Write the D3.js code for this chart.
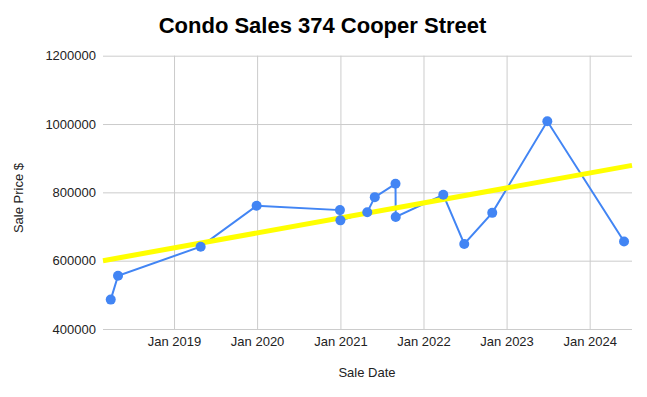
<!DOCTYPE html>
<html>
<head>
<meta charset="utf-8">
<script src="https://cdn.jsdelivr.net/npm/d3@7"></script>
<style>
  body { margin: 0; background: #fff; }
  text { font-family: Arial, "Liberation Sans", sans-serif; }
</style>
</head>
<body>
<svg id="chart" width="647" height="397"></svg>
<script>
// sale dates and prices
var saleDates = ["2018-03-29", "2018-04-30", "2019-04-28", "2019-12-30", "2020-12-30",
                 "2021-01-01", "2021-04-29", "2021-06-01", "2021-08-31", "2021-09-01",
                 "2022-03-29", "2022-06-29", "2022-10-30", "2023-06-29", "2024-05-31"];
var salePrices = [486000, 556000, 641000, 761000, 748000,
                  718000, 742000, 786000, 825000, 728000,
                  793000, 649000, 740000, 1008000, 656000];

// trendline ends (as drawn across the plot)
var trendDates = ["2018-02-23", "2024-07-05"];
var trendPrices = [600000, 879000];

var yTicks = [400000, 600000, 800000, 1000000, 1200000];
var xDomain = ["2018-02-23", "2024-07-05"];

var parse = d3.timeParse("%Y-%m-%d");
var sales = saleDates.map((d, i) => ({date: parse(d), price: salePrices[i]}));
var trend = trendDates.map((d, i) => ({date: parse(d), price: trendPrices[i]}));

// plot area (note: "top" is taken by window.top)
var plotL = 103, plotR = 632, plotT = 55.7, plotB = 329;

var svg = d3.select("#chart");

var x = d3.scaleTime()
        .domain(xDomain.map(parse))
        .range([plotL, plotR]);

var y = d3.scaleLinear()
        .domain([400000, 1200000])
        .range([plotB, plotT]);

// horizontal grid + labels
var yAxis = svg.append("g")
        .attr("transform", "translate(" + plotL + ",0)")
        .call(d3.axisLeft(y)
                .tickValues(yTicks)
                .tickSize(-(plotR - plotL))
                .tickPadding(7)
                .tickFormat(d3.format("d")));
yAxis.select(".domain").remove();
yAxis.selectAll("line").attr("stroke", "#cccccc");
yAxis.selectAll("text").attr("fill", "#222").style("font-size", "13px");

// vertical grid + labels
var xAxis = svg.append("g")
        .attr("transform", "translate(0," + plotB + ")")
        .call(d3.axisBottom(x)
                .ticks(d3.timeYear.every(1))
                .tickSize(-(plotB - plotT))
                .tickPadding(8)
                .tickFormat(d3.timeFormat("%b %Y")));
xAxis.select(".domain").remove();
xAxis.selectAll("line").attr("stroke", "#cccccc");
xAxis.selectAll("text").attr("fill", "#222").style("font-size", "13px");

var line = d3.line()
        .x(d => x(d.date))
        .y(d => y(d.price));

// sales line
svg.append("path")
        .datum(sales)
        .attr("d", line)
        .attr("fill", "none")
        .attr("stroke", "#4285f4")
        .attr("stroke-width", 2);

// trendline
svg.append("path")
        .datum(trend)
        .attr("d", line)
        .attr("fill", "none")
        .attr("stroke", "#ffff00")
        .attr("stroke-width", 5);

svg.append("g").selectAll("circle")
        .data(sales)
        .join("circle")
        .attr("cx", d => x(d.date))
        .attr("cy", d => y(d.price))
        .attr("r", 5)
        .attr("fill", "#4285f4");

// titles
svg.append("text")
        .attr("x", 322.5)
        .attr("y", 33)
        .attr("text-anchor", "middle")
        .style("font-size", "22px")
        .style("font-weight", "bold")
        .text("Condo Sales 374 Cooper Street");

svg.append("text")
        .attr("x", 367)
        .attr("y", 377)
        .attr("text-anchor", "middle")
        .attr("fill", "#222")
        .style("font-size", "13px")
        .text("Sale Date");

svg.append("text")
        .attr("transform", "translate(23,198) rotate(-90)")
        .attr("text-anchor", "middle")
        .attr("fill", "#222")
        .style("font-size", "13px")
        .text("Sale Price $");
</script>
</body>
</html>
